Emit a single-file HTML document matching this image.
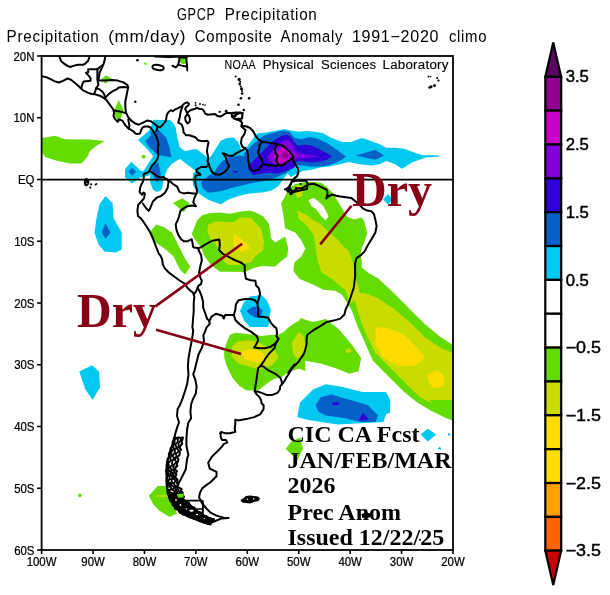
<!DOCTYPE html>
<html><head><meta charset="utf-8"><title>GPCP Precipitation Composite Anomaly</title>
<style>html,body{margin:0;padding:0;background:#fff;width:610px;height:595px;overflow:hidden}svg{display:block}</style>
</head><body>
<svg width="610" height="595" viewBox="0 0 610 595"><text transform="translate(176.9 19.9) scale(0.870 1.1)" x="0" y="0" font-family="'Liberation Sans', Arial, sans-serif" font-size="14.6" textLength="43.8" lengthAdjust="spacing" fill="#000">GPCP</text>
<text transform="translate(224.7 19.9) scale(1.042 1.1)" x="0" y="0" font-family="'Liberation Sans', Arial, sans-serif" font-size="14.6" textLength="88.4" lengthAdjust="spacing" fill="#000">Precipitation</text>
<text transform="translate(6.6 41.9) scale(1.043 1.1)" x="0" y="0" font-family="'Liberation Sans', Arial, sans-serif" font-size="14.6" textLength="88.4" lengthAdjust="spacing" fill="#000">Precipitation</text>
<text transform="translate(108.2 41.9) scale(1.176 1.1)" x="0" y="0" font-family="'Liberation Sans', Arial, sans-serif" font-size="14.6" textLength="65.8" lengthAdjust="spacing" fill="#000">(mm/day)</text>
<text transform="translate(194.8 41.9) scale(1.022 1.1)" x="0" y="0" font-family="'Liberation Sans', Arial, sans-serif" font-size="14.6" textLength="75.3" lengthAdjust="spacing" fill="#000">Composite</text>
<text transform="translate(280.6 41.9) scale(1.011 1.1)" x="0" y="0" font-family="'Liberation Sans', Arial, sans-serif" font-size="14.6" textLength="61.0" lengthAdjust="spacing" fill="#000">Anomaly</text>
<text transform="translate(351.9 41.9) scale(1.102 1.1)" x="0" y="0" font-family="'Liberation Sans', Arial, sans-serif" font-size="14.6" textLength="78.6" lengthAdjust="spacing" fill="#000">1991&#8722;2020</text>
<text transform="translate(448.9 41.9) scale(1.021 1.1)" x="0" y="0" font-family="'Liberation Sans', Arial, sans-serif" font-size="14.6" textLength="36.8" lengthAdjust="spacing" fill="#000">climo</text>
<g id="map"><defs><clipPath id="mc"><rect x="41.6" y="56" width="411.4" height="494"/></clipPath></defs><g clip-path="url(#mc)"><polygon points="41.0,138.2 55.1,135.7 65.2,139.3 77.8,139.5 90.4,139.5 104.5,140.9 95.5,146.6 90.0,151.0 87.9,155.9 81.6,163.4 70.2,163.4 57.6,160.9 45.0,157.1 41.0,150.8" fill="#64dc00"/><polygon points="101.2,79.4 105.9,75.3 112.9,79.4 108.2,81.2 105.9,83.5 101.2,81.0" fill="#64dc00"/><polygon points="118.8,100.0 123.5,110.0 122.9,112.4 121.2,117.1 118.8,123.5 117.6,120.6 115.3,115.9 114.1,110.0" fill="#64dc00"/><polygon points="143.2,64.4 145.0,62.3 147.8,64.4" fill="#64dc00"/><polygon points="179.5,58.0 183.0,57.0 186.0,58.5 186.5,63.0 183.0,64.5 180.0,62.0" fill="#64dc00"/><circle cx="143.7" cy="156.7" r="2" fill="#64dc00"/><circle cx="79.8" cy="495.4" r="1.8" fill="#64dc00"/><polygon points="105.5,196.1 112.6,203.2 113.6,218.3 121.7,232.4 121.7,249.6 115.6,252.6 104.5,251.6 98.5,244.5 94.5,232.4 96.5,218.3 99.5,204.2" fill="#00c8f0"/><polygon points="105.5,223.4 110.6,232.4 105.5,238.5 101.5,232.4" fill="#0560c8"/><polygon points="79.3,371.5 92.1,365.2 99.0,371.5 100.0,387.2 92.7,400.0 85.2,389.2" fill="#00c8f0"/><polygon points="130.5,180.0 134.0,180.0 132.5,183.0" fill="#00c8f0"/><polygon points="125.0,169.3 131.1,161.8 136.1,166.3 141.0,171.0 143.2,171.3 145.2,168.3 149.2,162.3 153.2,156.2 148.2,150.2 143.2,145.1 138.1,140.1 145.2,134.0 149.4,130.0 153.4,119.7 160.0,120.1 169.8,120.1 172.8,122.5 175.7,127.4 176.7,134.3 178.2,141.2 179.5,147.0 185.2,151.2 193.1,149.3 197.0,149.3 201.0,152.5 206.2,156.5 208.2,159.1 211.5,155.2 216.7,147.3 220.7,140.7 227.2,138.1 233.8,137.5 237.7,141.4 240.0,146.0 241.5,150.5 244.0,149.5 247.8,145.6 250.8,141.7 253.0,138.5 255.7,134.8 258.5,133.2 266.1,132.4 276.9,130.4 285.0,129.0 290.3,130.4 298.4,131.7 306.5,131.1 314.5,131.7 322.6,133.1 331.1,137.7 342.1,142.1 351.0,142.1 362.0,138.1 370.9,141.0 379.7,144.3 386.4,147.7 395.2,147.7 404.1,148.8 412.9,152.1 421.8,155.0 439.5,155.4 439.5,156.5 426.2,157.6 412.9,162.0 401.9,168.7 395.2,164.3 386.4,160.9 379.7,164.3 370.9,165.4 359.8,164.3 348.8,162.0 339.9,164.3 328.9,166.5 320.0,167.6 310.5,170.0 303.8,170.7 298.4,172.7 291.0,177.0 287.4,173.6 282.0,180.8 278.4,186.2 271.2,190.7 262.1,192.5 249.5,193.4 238.7,196.1 229.7,198.9 220.7,204.3 208.0,199.8 199.0,193.4 196.0,190.0 193.1,185.3 192.5,180.1 193.1,173.5 195.7,170.9 190.5,167.0 185.2,163.0 180.0,159.1 177.4,160.3 171.4,164.3 167.4,169.3 165.3,174.4 163.3,180.4 162.5,186.0 163.6,184.0 165.0,180.0 161.3,190.0 156.9,192.1 153.2,190.0 150.2,182.4 150.2,174.4 148.0,176.0 140.1,177.4 132.1,183.4 128.0,180.0 125.0,177.0" fill="#00c8f0"/><polygon points="145.2,141.1 151.2,135.0 150.0,131.0 152.9,132.4 158.8,130.0 164.7,135.9 166.3,138.1 169.4,147.1 171.4,157.2 159.3,155.2 155.3,153.2 149.2,147.1" fill="#0560c8"/><polygon points="153.2,166.3 158.3,162.3 160.8,174.4 159.3,178.4 157.3,182.4 154.2,177.4 151.7,170.3" fill="#0560c8"/><polygon points="128.5,171.8 132.1,167.8 136.0,171.8 132.1,175.8" fill="#0560c8"/><polygon points="201.0,182.7 206.2,177.5 214.1,172.2 219.3,164.3 223.3,160.4 229.8,156.5 235.1,156.5 239.0,155.2 244.3,156.5 243.9,153.5 247.8,149.5 252.7,144.6 257.7,140.7 260.6,137.7 263.6,135.8 269.5,133.8 277.3,131.8 283.2,130.5 289.1,131.5 294.8,137.9 301.7,139.3 309.6,136.9 317.4,138.8 326.3,142.8 334.2,147.7 343.0,154.6 346.0,156.5 343.0,159.0 336.1,162.4 328.3,165.4 319.4,166.4 310.6,166.4 302.7,165.4 296.0,165.0 290.3,170.0 285.0,173.4 274.8,178.1 265.7,180.8 254.9,182.6 245.9,184.4 235.1,187.1 222.5,190.7 211.6,192.5 207.5,192.5 202.6,188.0" fill="#0560c8"/><polygon points="355.4,155.4 375.3,149.9 384.2,155.4 375.3,159.8 364.3,157.6" fill="#0560c8"/><polygon points="247.8,168.2 250.8,163.3 255.7,158.4 260.6,153.5 265.5,148.5 270.4,143.6 276.3,138.7 282.2,135.8 287.2,134.8 290.5,136.5 292.9,140.8 297.8,145.7 305.6,144.7 312.5,145.7 320.4,149.7 327.3,153.6 332.2,156.5 327.3,159.5 320.4,161.5 312.5,162.4 304.7,161.5 296.8,161.5 294.2,167.8 286.0,171.1 277.8,173.5 269.6,172.7 261.4,173.5 253.2,175.0" fill="#3000d8"/><polygon points="233.1,170.9 237.7,170.9 237.7,172.2 233.1,172.2" fill="#3000d8"/><polygon points="266.7,157.1 272.0,151.4 277.8,145.7 283.5,140.7 288.4,139.9 292.5,144.0 294.8,150.6 299.7,153.6 309.6,155.1 318.4,156.5 309.6,157.5 299.7,158.5 294.8,159.5 290.9,162.0 284.3,166.1 277.8,166.1 272.0,162.9 268.8,160.4" fill="#8200dc"/><polygon points="272.9,156.3 279.4,149.8 283.5,146.5 287.6,149.8 290.9,155.5 286.0,162.0 280.2,163.7 276.1,160.4" fill="#c800c8"/><polygon points="281.1,156.3 284.3,151.4 288.4,153.9 287.6,158.0 284.3,158.8" fill="#910091"/><polygon points="191.8,233.8 197.2,220.3 202.6,215.0 209.8,213.2 219.2,212.5 230.0,213.8 239.4,211.8 249.5,210.6 255.0,212.2 263.1,216.3 269.1,224.3 271.1,238.4 275.2,242.5 285.2,236.4 288.2,248.5 287.2,256.6 280.0,262.0 274.9,266.7 261.5,266.0 253.4,268.1 245.3,272.1 230.0,271.8 219.9,271.8 210.5,264.4 203.8,255.0 201.3,247.2 194.5,239.2" fill="#64dc00"/><polygon points="207.1,230.0 208.4,224.6 216.5,221.2 225.9,221.9 234.0,221.9 240.7,217.2 251.5,217.9 255.0,222.3 261.0,228.4 264.1,240.5 263.1,250.5 255.0,256.6 251.5,262.2 239.4,264.9 228.6,264.9 224.6,262.2 220.0,252.0 215.2,243.4 209.8,238.0" fill="#c8dc00"/><polygon points="234.0,234.0 242.1,239.4 248.8,246.1 250.1,248.8 242.1,251.5 235.3,248.8 233.3,242.1" fill="#ffdc00"/><polygon points="173.0,202.9 182.4,198.2 189.8,203.5 183.8,212.3" fill="#64dc00"/><polygon points="149.7,232.5 156.2,224.6 164.1,227.2 172.0,232.5 178.5,245.6 185.1,258.7 190.3,266.6 185.1,274.4 179.8,269.2 173.3,256.1 164.1,248.2 156.2,243.0 151.0,237.7" fill="#64dc00"/><polygon points="289.3,188.1 295.3,184.0 305.4,182.0 315.5,182.0 321.5,183.1 326.9,187.1 332.3,192.5 335.0,196.5 339.0,203.2 343.0,210.0 347.1,216.7 353.8,219.4 361.8,217.4 364.5,222.1 367.2,232.8 364.5,242.2 361.8,247.6 360.5,255.0 361.8,260.8 361.8,267.5 368.6,272.9 378.0,278.2 396.4,295.6 409.4,308.7 425.0,324.3 440.7,337.3 453.0,345.1 453.0,420.7 445.9,418.1 430.2,410.2 417.2,402.4 404.2,392.0 388.6,376.4 372.9,360.8 362.5,337.3 357.0,325.0 352.1,311.3 347.1,302.4 341.7,294.4 335.0,290.8 323.5,289.8 313.4,284.8 299.3,278.7 293.3,270.7 294.3,262.6 301.3,256.6 305.4,248.5 301.3,240.5 295.3,232.4 285.2,228.4 283.2,214.3 281.2,203.2 285.2,196.1" fill="#64dc00"/><polygon points="308.4,200.2 313.4,198.1 318.0,201.0 323.5,206.2 328.6,216.3 325.5,220.3 321.0,216.0 316.0,209.0 311.4,206.2" fill="#ffffff"/><polygon points="297.3,210.2 305.4,214.3 313.4,220.3 320.2,223.4 325.5,228.8 330.9,234.2 337.6,239.5 343.0,246.3 348.4,250.0 352.4,260.8 353.8,267.5 356.5,280.9 360.0,293.0 365.1,293.0 378.1,298.2 393.8,308.7 409.4,321.7 425.0,337.3 440.7,347.7 453.0,352.9 453.0,410.2 435.5,405.0 419.8,397.2 406.8,384.2 391.2,368.6 375.5,352.9 365.1,332.1 358.0,312.0 354.7,300.8 349.7,303.8 345.7,290.3 339.0,285.0 331.6,278.7 321.5,272.7 317.5,260.6 315.5,246.5 313.4,234.4 307.4,226.3 298.3,218.3" fill="#c8dc00"/><polygon points="295.3,186.0 300.0,185.0 303.4,188.0 302.0,196.0 298.0,198.1 295.0,194.0" fill="#c8dc00"/><polygon points="375.5,326.9 388.6,328.2 404.2,334.7 417.2,347.7 425.0,358.1 414.6,366.0 399.0,366.0 383.4,358.1 375.5,345.1" fill="#ffdc00"/><polygon points="427.6,373.8 438.1,369.9 444.6,376.4 443.3,386.8 432.8,388.1 428.9,381.6" fill="#ffdc00"/><polygon points="300.0,318.0 313.0,322.0 326.0,319.1 339.1,329.5 352.1,345.1 361.2,358.1 358.6,371.2 349.5,373.8 336.5,368.6 320.8,363.4 305.2,360.8 300.0,358.0" fill="#64dc00"/><polygon points="345.0,350.0 350.0,348.0 352.0,352.0 347.0,353.0" fill="#c8dc00"/><polygon points="224.2,356.9 224.2,351.5 226.8,342.1 230.0,334.8 235.4,332.8 243.4,333.4 252.9,334.8 262.0,336.0 270.0,335.0 278.4,334.8 283.8,332.1 287.8,328.1 293.2,324.0 299.9,320.0 305.3,320.0 310.0,322.7 310.0,330.0 306.0,345.0 305.3,355.0 305.3,371.1 299.0,368.8 295.1,369.8 291.1,370.8 286.2,373.8 282.3,376.7 277.4,377.7 272.4,379.7 265.6,384.6 259.7,389.5 253.8,390.5 246.1,390.2 239.4,386.1 232.6,378.1 228.6,370.0 226.0,364.0" fill="#64dc00"/><polygon points="232.7,345.5 238.1,341.5 247.5,340.2 256.9,341.5 267.6,346.9 275.7,352.3 278.4,357.6 276.4,360.0 272.4,364.9 265.6,367.9 259.7,369.3 249.8,366.9 240.0,363.9 236.7,361.7 231.3,356.3" fill="#c8dc00"/><polygon points="242.1,352.3 247.5,349.6 256.9,350.2 263.6,353.6 265.0,357.6 260.9,363.0 252.9,361.7 244.8,359.0" fill="#ffdc00"/><polygon points="291.8,342.9 298.6,332.1 303.9,336.1 305.3,346.9 302.6,355.0 297.2,359.0 293.2,353.6" fill="#c8dc00"/><polygon points="240.0,311.1 244.0,301.7 250.7,296.3 261.5,295.0 266.8,300.3 270.9,309.7 269.5,316.5 268.2,324.5 258.8,327.2 249.4,325.9 244.0,320.5" fill="#00c8f0"/><polygon points="246.7,311.1 252.1,307.1 258.8,306.4 262.8,311.1 260.1,316.5 256.1,317.8 250.7,315.1" fill="#0560c8"/><polygon points="244.0,320.0 250.0,318.0 262.0,318.0 270.0,320.0 268.0,327.0 250.0,327.0" fill="#00c8f0"/><polygon points="383.0,199.5 388.0,194.0 392.5,199.0 388.5,205.0" fill="#00c8f0"/><polygon points="297.2,417.2 300.0,402.4 313.0,389.4 326.0,384.2 341.7,386.8 362.5,392.0 386.0,392.0 390.4,400.0 389.9,412.8 386.1,414.3 383.4,422.0 366.1,423.0 337.4,424.4 308.7,420.1" fill="#00c8f0"/><polygon points="315.6,405.0 320.8,397.2 331.3,394.6 349.5,399.8 367.7,405.0 378.1,415.4 375.5,422.0 359.9,422.0 344.3,418.1 326.0,415.4 318.2,411.5" fill="#0560c8"/><polygon points="332.6,402.4 339.1,402.4 339.1,405.0 332.6,405.0" fill="#3000d8"/><polygon points="358.6,420.7 363.0,412.8 369.0,420.0" fill="#3000d8"/><polygon points="420.6,434.4 427.7,428.7 436.3,434.4 427.7,441.6" fill="#00c8f0"/><polygon points="448.0,433.0 451.0,434.4 448.0,436.0" fill="#00c8f0"/><polygon points="437.5,448.8 440.0,446.5 441.5,450.0" fill="#00c8f0"/><polygon points="285.7,448.8 291.5,441.6 300.1,437.3 303.0,448.8 297.2,460.2" fill="#64dc00"/><polygon points="429.2,400.0 440.6,411.5 453.0,420.1 453.0,400.0" fill="#64dc00"/><polygon points="148.9,495.7 157.7,486.1 166.6,486.1 170.0,495.0 176.9,513.4 169.5,517.0 159.2,510.4 153.3,504.5" fill="#64dc00"/><polyline points="156,496 168,496" stroke="#c8dc00" stroke-width="1.5"/><polyline points="59.5,55.0 59.5,56.7 61.2,61.3 64.1,63.6 67.5,65.9 70.4,67.0 73.3,65.9 77.9,64.8 83.0,64.8 85.3,63.6 88.2,60.7 89.3,57.3 89.9,55.0" fill="none" stroke="#000" stroke-width="2.0" stroke-linejoin="round" stroke-linecap="round"/><polyline points="105.4,55.0 104.8,59.6 103.7,63.6 102.0,67.6 99.7,72.2 98.5,80.2 100.0,80.6 104.7,80.6 111.8,80.0 117.6,80.6 123.5,82.4 127.6,85.3 128.2,87.6 127.6,90.0 126.5,95.9 125.3,101.8 125.3,106.5 125.9,112.4 128.2,117.1 131.2,120.6 135.3,123.5 138.8,124.7 143.5,122.4 147.1,120.6 150.6,121.2 154.1,123.5 157.6,126.5 160.0,127.4 163.0,124.5 165.9,120.6 166.9,114.7 168.4,112.2 170.8,110.2 172.8,111.2 174.7,109.7 178.7,107.8 181.6,106.3 184.6,103.4 187.0,102.4 189.0,103.8 188.5,105.3 186.5,106.8 185.1,108.8 186.1,110.7 187.0,113.2 188.5,111.7 190.5,110.2 193.4,109.3 195.4,108.8 196.4,107.8 199.3,108.8 202.3,109.3 204.2,111.2 205.2,113.7 208.2,114.7 212.1,114.2 215.0,114.1 217.4,115.9 220.9,116.5 224.4,114.1 226.8,112.9 231.5,112.9 236.2,112.4 240.5,112.6 236.0,114.5 232.6,117.1 236.2,119.4 240.3,120.6 242.1,122.9 241.5,126.5 243.2,125.9 246.8,126.5 250.3,128.2 253.2,131.2 255.6,135.9 258.1,139.1 262.1,141.8 267.5,142.5 272.9,143.2 276.9,144.5 282.3,145.2 286.3,148.5 289.7,151.9 293.0,155.9 293.0,160.0 295.0,164.0 297.7,168.0 298.4,172.1 297.1,176.1 294.4,178.1 291.7,181.5 290.3,185.5 287.6,188.2 285.0,189.5 290.3,188.9 293.0,192.2 295.7,189.5 298.4,188.2 302.4,188.2 306.5,185.5 306.7,185.8 308.1,184.4 313.4,183.7 318.8,185.8 322.9,187.8 326.9,189.8 327.6,193.8 326.2,198.5 328.2,196.5 332.3,194.5 336.3,195.8 340.3,196.5 345.7,197.2 351.1,197.9 353.8,199.9 357.8,203.2 363.2,208.6 367.2,210.6 371.3,211.3 373.9,214.0 375.3,219.4 376.6,226.1 375.3,232.8 371.3,239.5 367.2,246.3 364.5,251.6 360.5,255.4 356.5,258.1 355.1,263.4 355.1,276.9 353.8,287.6 351.1,295.7 348.4,303.8 345.7,309.2 344.4,314.5 340.3,318.6 333.6,320.6 326.9,321.9 321.5,325.3 314.8,329.3 310.0,332.8 307.3,334.8 306.6,338.8 306.6,344.2 305.3,349.6 304.0,353.6 301.3,357.6 298.6,361.7 296.5,363.9 294.1,365.9 292.1,368.8 290.1,371.8 288.2,374.7 286.2,377.7 284.2,381.6 281.8,384.6 280.3,386.0 279.8,389.5 277.4,392.9 272.4,394.9 266.5,394.9 261.6,392.9 257.7,391.5 254.7,391.5 256.7,394.4 259.7,397.4 261.1,400.3 261.6,403.3 263.6,405.2 263.6,409.0 260.2,414.4 254.2,417.1 246.1,419.1 238.0,420.4 235.3,419.7 235.3,423.8 234.7,429.2 235.3,431.8 230.0,433.2 224.6,433.2 221.2,431.8 220.5,435.9 221.9,439.9 225.9,439.9 227.3,442.6 223.9,443.9 221.9,446.6 219.6,449.1 212.0,456.6 208.2,462.7 209.7,468.7 216.5,471.8 216.5,476.3 210.5,482.3 206.0,485.4 202.2,488.4 199.9,492.9 199.1,497.5 200.5,500.5 202.2,503.5 206.0,508.0 210.5,512.6 216.5,515.6 224.1,517.9 228.6,517.9 221.1,518.6 213.5,521.7 207.5,523.9 198.4,520.2 189.3,517.1 180.2,512.6 172.7,503.5 168.1,494.4 166.6,485.4 166.6,474.8 166.6,467.2 168.9,456.6 171.2,449.1 174.2,440.0 175.0,434.6 177.0,427.9 179.0,422.5 177.0,415.8 177.6,409.0 179.8,405.3 182.5,398.6 185.2,390.5 187.2,383.8 188.5,374.4 187.9,366.3 188.5,358.2 189.9,350.2 191.2,343.4 192.6,335.4 193.2,330.0 192.4,327.6 193.0,319.5 193.7,311.5 193.7,303.4 194.4,296.7 193.0,292.6 190.3,290.6 187.0,287.3 185.0,283.9 179.6,280.5 174.2,276.5 168.8,272.5 164.8,268.4 162.8,264.4 162.1,259.0 160.1,255.0 158.9,254.0 156.2,247.2 154.2,241.8 152.2,236.5 149.5,231.1 146.1,225.7 143.4,221.7 140.8,218.3 138.1,216.3 137.4,210.9 138.1,204.9 141.4,201.5 144.1,198.2 144.8,193.6 143.4,192.5 142.1,194.8 139.6,192.0 140.1,188.0 141.1,185.0 142.6,182.4 143.7,179.4 143.7,174.4 145.2,173.4 148.2,172.4 149.7,170.3 150.7,168.3 152.2,165.3 154.7,163.3 157.3,159.2 158.3,155.2 157.8,150.2 158.3,144.1 157.8,141.0 156.5,137.0 154.5,133.0 152.4,130.0 150.6,127.6 148.2,126.5 144.7,126.5 142.4,127.6 141.2,130.0 140.0,133.5 137.6,134.1 135.3,133.5 134.1,131.8 131.2,130.0 128.2,128.2 125.3,125.3 122.4,120.6 118.8,119.4 117.6,121.8 115.3,119.4 113.5,115.9 114.1,112.4 112.9,108.8 109.4,104.1 105.9,99.4 105.4,99.2 103.1,97.5 99.7,95.7 96.2,94.6 91.6,94.0 88.2,92.9 83.6,90.6 80.7,88.3 77.9,85.4 74.4,82.5 71.0,79.7 67.5,78.5 63.0,80.8 58.9,82.5 54.9,81.4 51.5,79.7 46.9,77.4 41.0,76.0" fill="none" stroke="#000" stroke-width="2.0" stroke-linejoin="round" stroke-linecap="round"/><polygon points="292.0,181.5 298.0,180.8 306.0,180.7 307.5,183.0 307.0,188.9 302.0,190.0 298.9,190.7 294.0,192.0 290.0,190.0 289.5,186.0" fill="none" stroke="#000" stroke-width="2.0" stroke-linejoin="round"/><circle cx="288.5" cy="190.5" r="2.3" fill="#000"/><circle cx="291" cy="193.5" r="1.8" fill="#000"/><circle cx="296" cy="188" r="1.2" fill="#000"/><circle cx="300.5" cy="184" r="1.0" fill="#000"/><polygon points="187.0,114.2 185.1,117.6 185.6,120.6 187.5,123.5 189.5,122.0 190.0,118.6 188.5,115.2" fill="none" stroke="#000" stroke-width="2.0" stroke-linejoin="round"/><polyline points="288.0,373.0 291.0,368.5 294.5,364.0" fill="none" stroke="#000" stroke-width="1.5" stroke-linejoin="round" stroke-linecap="round"/><polyline points="174.2,437.6 173.6,439.8 172.7,442.0 172.6,444.2 171.9,446.4 170.5,448.7 170.4,450.7 169.4,452.7 168.8,454.8 169.7,456.6 167.7,458.8 167.3,461.0 167.0,463.2 166.6,465.5 167.3,467.5 166.4,469.8 166.1,471.0 166.7,472.1 166.4,473.3 166.6,474.4 168.0,475.5 166.8,477.3 166.8,479.2 166.8,481.0 166.8,482.9 168.1,484.7 167.2,486.5 167.2,488.4 167.9,490.2 167.5,492.1 168.1,493.9 169.9,495.2 168.8,496.9 169.4,498.3 170.0,499.8 170.5,501.3 173.1,502.5 172.3,504.3 173.3,505.7 174.8,507.0 175.1,508.7 177.3,509.6 179.2,510.5 179.5,512.1 181.1,513.1 182.6,514.3 184.4,515.0 187.5,515.1 188.1,516.5 189.9,517.3 192.3,517.7 193.6,518.7 196.0,519.1 197.7,519.9 199.2,521.0 201.1,521.6 202.9,522.2 204.7,522.8 207.0,522.8 208.4,523.9 210.2,524.4" fill="none" stroke="#000" stroke-width="2.1" stroke-linejoin="round" stroke-linecap="round"/><polyline points="177.3,437.6 174.9,439.8 174.5,442.0 174.6,444.1 173.0,446.3 174.0,448.4 172.7,450.4 170.7,452.6 171.8,454.4 170.6,456.5 170.5,458.4 171.1,460.4 168.4,463.0 168.8,465.1 169.2,467.2 167.9,469.6 169.5,470.6 168.5,471.9 167.6,473.2 169.5,474.3 168.9,475.5 169.4,477.3 170.0,479.2 168.0,481.0 169.3,482.9 170.1,484.7 169.4,486.5 171.3,488.2 169.9,490.0 169.4,491.9 172.4,493.4 171.4,495.0 172.5,496.4 173.3,497.9 171.3,499.6 173.9,500.9 175.3,502.1 175.0,503.6 177.5,504.6 176.4,506.5 177.3,507.9 181.2,508.1 180.9,509.8 182.9,510.7 184.3,511.8 183.8,513.8 187.7,513.5 189.4,514.2 190.0,515.5 192.7,515.7 193.1,517.2 195.1,517.8 198.0,517.6 198.6,519.2 200.6,519.6 202.2,520.4 203.4,521.6 206.1,521.1 207.7,521.9 209.1,522.9 211.2,522.9" fill="none" stroke="#000" stroke-width="1.8" stroke-linejoin="round" stroke-linecap="round"/><polyline points="178.5,437.6 177.7,439.7 177.8,441.8 175.5,444.1 175.9,446.1 176.5,448.2 174.6,450.2 175.1,452.1 173.8,454.1 172.4,456.2 174.2,457.8 172.8,460.2 172.0,462.5 172.3,464.6 170.1,467.1 171.1,469.1 172.0,470.2 170.6,471.7 171.6,472.9 170.8,474.2 170.6,475.5 172.8,477.3 171.7,479.2 171.6,481.0 172.4,482.9 170.9,484.7 173.4,486.4 174.3,488.0 172.8,489.8 174.7,491.4 174.0,493.2 174.4,494.7 177.4,495.8 175.5,497.6 175.9,499.1 177.0,500.5 176.5,501.9 179.9,502.5 180.7,503.7 179.6,505.5 182.2,506.1 182.3,507.6 184.2,508.5 187.4,508.9 186.3,511.0 188.0,512.0 190.1,512.4 190.6,513.7 193.9,513.5 194.8,514.5 195.1,516.0 197.7,516.0 198.6,517.2 200.5,517.6 202.7,517.8 203.0,519.6 205.0,519.9 206.9,520.2 208.3,521.1 210.6,520.8 211.9,521.9" fill="none" stroke="#000" stroke-width="1.8" stroke-linejoin="round" stroke-linecap="round"/><polyline points="179.8,437.6 181.1,439.7 179.5,441.8 178.3,443.9 178.9,445.9 177.2,448.1 178.1,449.9 178.3,451.7 175.7,453.9 176.4,455.7 175.7,457.6 174.9,459.9 176.3,461.8 174.1,464.3 173.1,466.6 173.9,468.6 172.8,470.1 174.2,471.3 174.4,472.7 172.6,474.2 173.9,475.5 173.9,477.3 174.0,479.2 175.8,481.0 174.0,482.9 174.2,484.7 176.3,486.3 175.7,487.9 178.1,489.4 178.3,491.0 176.5,492.9 179.2,494.1 179.0,495.6 179.2,497.1 181.1,498.4 178.8,500.2 180.3,501.2 182.9,501.8 182.5,503.2 185.2,503.6 185.3,504.9 184.7,506.7 188.4,506.9 188.9,508.3 190.1,509.4 192.4,510.0 191.4,511.8 193.8,512.1 196.1,512.3 196.4,513.7 198.7,513.8 199.2,515.1 199.9,516.3 202.6,516.0 203.4,517.1 204.8,517.9 206.6,518.1 207.4,519.7 209.6,519.5 211.4,519.7 212.6,520.9" fill="none" stroke="#000" stroke-width="1.8" stroke-linejoin="round" stroke-linecap="round"/><polyline points="182.5,437.6 182.5,439.6 181.4,441.7 182.2,443.7 180.3,445.8 179.6,447.9 181.0,449.6 179.4,451.6 179.7,453.4 179.4,455.2 177.0,457.4 178.4,459.3 178.0,461.5 176.6,463.9 177.3,465.9 175.0,468.4 175.2,469.8 176.9,471.1 175.7,472.6 176.3,474.0 176.1,475.5 175.0,477.3 177.3,479.2 177.4,481.0 176.9,482.9 178.3,484.7 177.3,486.2 178.9,487.8 181.6,489.1 180.4,490.8 182.3,492.2 181.9,493.8 180.7,495.4 183.9,496.6 183.2,498.1 182.5,499.7 184.7,500.4 183.8,501.6 186.3,502.1 188.8,502.5 187.6,504.0 189.9,504.7 190.4,506.1 190.7,507.5 194.4,507.6 194.3,509.2 194.8,510.3 197.0,510.5 196.7,512.0 199.2,512.0 201.0,512.4 200.6,514.1 202.6,514.3 203.4,515.3 204.4,516.2 206.5,516.1 207.4,517.3 208.7,518.1 210.6,518.2 211.7,519.3 213.8,519.1" fill="none" stroke="#000" stroke-width="2.1" stroke-linejoin="round" stroke-linecap="round"/><circle cx="167.9" cy="467.4" r="0.98" fill="#000"/><circle cx="169.6" cy="467.2" r="1.10" fill="#000"/><circle cx="173.4" cy="466.5" r="0.91" fill="#000"/><circle cx="175.2" cy="466.3" r="0.80" fill="#000"/><circle cx="167.0" cy="470.9" r="1.00" fill="#000"/><circle cx="169.8" cy="470.5" r="0.81" fill="#000"/><circle cx="173.0" cy="470.1" r="0.91" fill="#000"/><circle cx="174.2" cy="469.9" r="1.09" fill="#000"/><circle cx="167.1" cy="473.2" r="0.83" fill="#000"/><circle cx="170.7" cy="473.0" r="1.05" fill="#000"/><circle cx="172.5" cy="472.8" r="1.06" fill="#000"/><circle cx="174.4" cy="472.7" r="0.85" fill="#000"/><circle cx="167.9" cy="475.5" r="1.10" fill="#000"/><circle cx="170.9" cy="475.5" r="0.92" fill="#000"/><circle cx="172.1" cy="475.5" r="0.80" fill="#000"/><circle cx="175.2" cy="475.5" r="0.98" fill="#000"/><circle cx="168.6" cy="479.2" r="0.81" fill="#000"/><circle cx="170.6" cy="479.2" r="0.90" fill="#000"/><circle cx="172.7" cy="479.2" r="1.09" fill="#000"/><circle cx="176.2" cy="479.2" r="1.00" fill="#000"/><circle cx="168.8" cy="482.9" r="1.04" fill="#000"/><circle cx="170.2" cy="482.9" r="1.07" fill="#000"/><circle cx="173.8" cy="482.9" r="0.85" fill="#000"/><circle cx="176.5" cy="482.9" r="0.83" fill="#000"/><circle cx="168.5" cy="486.5" r="0.94" fill="#000"/><circle cx="170.9" cy="486.4" r="0.80" fill="#000"/><circle cx="175.1" cy="486.3" r="0.97" fill="#000"/><circle cx="176.8" cy="486.3" r="1.10" fill="#000"/><circle cx="168.3" cy="490.1" r="1.14" fill="#000"/><circle cx="172.6" cy="489.8" r="1.48" fill="#000"/><circle cx="176.0" cy="489.6" r="1.34" fill="#000"/><circle cx="177.9" cy="489.4" r="1.02" fill="#000"/><circle cx="168.8" cy="493.8" r="1.46" fill="#000"/><circle cx="174.1" cy="493.2" r="1.11" fill="#000"/><circle cx="176.3" cy="492.9" r="1.05" fill="#000"/><circle cx="179.9" cy="492.5" r="1.39" fill="#000"/><circle cx="170.8" cy="496.6" r="1.00" fill="#000"/><circle cx="174.6" cy="496.2" r="1.27" fill="#000"/><circle cx="176.6" cy="495.9" r="1.50" fill="#000"/><circle cx="181.4" cy="495.3" r="1.23" fill="#000"/><circle cx="172.5" cy="499.5" r="1.47" fill="#000"/><circle cx="174.5" cy="499.2" r="1.36" fill="#000"/><circle cx="177.9" cy="498.8" r="1.02" fill="#000"/><circle cx="182.2" cy="498.3" r="1.14" fill="#000"/><circle cx="173.6" cy="502.4" r="1.13" fill="#000"/><circle cx="175.5" cy="502.0" r="1.04" fill="#000"/><circle cx="180.2" cy="501.2" r="1.39" fill="#000"/><circle cx="182.8" cy="500.7" r="1.46" fill="#000"/><circle cx="174.6" cy="505.4" r="1.24" fill="#000"/><circle cx="178.0" cy="504.4" r="1.50" fill="#000"/><circle cx="182.5" cy="503.2" r="1.24" fill="#000"/><circle cx="184.1" cy="502.7" r="1.00" fill="#000"/><circle cx="176.0" cy="508.4" r="1.38" fill="#000"/><circle cx="180.9" cy="506.6" r="1.03" fill="#000"/><circle cx="183.8" cy="505.5" r="1.13" fill="#000"/><circle cx="186.2" cy="504.6" r="1.47" fill="#000"/><circle cx="179.4" cy="510.4" r="1.03" fill="#000"/><circle cx="183.8" cy="508.7" r="1.37" fill="#000"/><circle cx="185.5" cy="508.0" r="1.46" fill="#000"/><circle cx="189.4" cy="506.5" r="1.13" fill="#000"/><circle cx="183.1" cy="512.3" r="1.50" fill="#000"/><circle cx="185.9" cy="511.2" r="1.26" fill="#000"/><circle cx="188.1" cy="510.2" r="1.00" fill="#000"/><circle cx="192.4" cy="508.4" r="1.24" fill="#000"/><circle cx="186.6" cy="514.0" r="1.05" fill="#000"/><circle cx="188.1" cy="513.3" r="1.11" fill="#000"/><circle cx="191.5" cy="511.8" r="1.46" fill="#000"/><circle cx="194.7" cy="510.3" r="1.39" fill="#000"/><circle cx="189.5" cy="515.8" r="1.35" fill="#000"/><circle cx="191.3" cy="514.9" r="1.48" fill="#000"/><circle cx="194.9" cy="513.0" r="1.13" fill="#000"/><circle cx="196.5" cy="512.1" r="1.03" fill="#000"/><circle cx="192.5" cy="517.6" r="1.28" fill="#000"/><circle cx="195.0" cy="516.0" r="1.00" fill="#000"/><circle cx="197.5" cy="514.5" r="1.24" fill="#000"/><circle cx="198.6" cy="513.8" r="1.50" fill="#000"/><circle cx="196.0" cy="519.1" r="1.09" fill="#000"/><circle cx="198.6" cy="517.2" r="1.45" fill="#000"/><circle cx="199.8" cy="516.3" r="1.39" fill="#000"/><circle cx="201.4" cy="515.2" r="1.05" fill="#000"/><circle cx="199.9" cy="520.3" r="1.48" fill="#000"/><circle cx="201.6" cy="518.7" r="1.15" fill="#000"/><circle cx="202.4" cy="518.0" r="1.02" fill="#000"/><circle cx="204.3" cy="516.3" r="1.35" fill="#000"/><circle cx="203.7" cy="521.3" r="1.00" fill="#000"/><circle cx="204.6" cy="520.4" r="1.21" fill="#000"/><circle cx="205.6" cy="519.2" r="1.50" fill="#000"/><circle cx="207.3" cy="517.4" r="1.28" fill="#000"/><circle cx="207.3" cy="522.4" r="1.44" fill="#000"/><circle cx="207.8" cy="521.7" r="1.41" fill="#000"/><circle cx="209.2" cy="520.0" r="1.05" fill="#000"/><circle cx="210.2" cy="518.7" r="1.09" fill="#000"/><circle cx="210.6" cy="523.8" r="1.18" fill="#000"/><circle cx="211.4" cy="522.7" r="1.01" fill="#000"/><circle cx="212.6" cy="520.9" r="1.34" fill="#000"/><circle cx="213.0" cy="520.2" r="1.49" fill="#000"/><polyline points="174.2,437.6 183.4,437.6" fill="none" stroke="#000" stroke-width="1.6" stroke-linejoin="round" stroke-linecap="round"/><polygon points="167.7,493.9 170.5,501.3 175.1,508.7 182.5,514.3 191.8,518.0 201.0,521.7 210.2,524.4 213.9,518.9 206.5,516.1 201.0,512.4 195.5,508.7 189.9,503.2 184.4,499.5 183.4,492.1" fill="#000"/><ellipse cx="176" cy="500" rx="0.8" ry="1.1" fill="#fff"/><ellipse cx="180.5" cy="505" rx="0.9" ry="1.0" fill="#fff"/><ellipse cx="191.5" cy="510.5" rx="2.2" ry="1.3" fill="#fff"/><ellipse cx="186.5" cy="509" rx="0.8" ry="0.8" fill="#fff"/><ellipse cx="197" cy="514.5" rx="1.1" ry="0.7" fill="#fff"/><ellipse cx="204" cy="518.5" rx="1.0" ry="0.7" fill="#fff"/><polyline points="184.4,500.7 202.0,500.7" fill="none" stroke="#000" stroke-width="1.8" stroke-linejoin="round" stroke-linecap="round"/><polyline points="202.9,501.2 202.9,518.8" fill="none" stroke="#000" stroke-width="1.8" stroke-linejoin="round" stroke-linecap="round"/><polyline points="188.0,509.0 202.9,509.0" fill="none" stroke="#000" stroke-width="1.4" stroke-linejoin="round" stroke-linecap="round"/><ellipse cx="158.1" cy="67.5" rx="5.7" ry="2.6" fill="none" stroke="#000" stroke-width="2" transform="rotate(8 158.1 67.5)"/><polyline points="155.0,56.8 170.0,57.2 180.0,56.8 188.0,57.0" fill="none" stroke="#000" stroke-width="1.6" stroke-linejoin="round" stroke-linecap="round"/><polyline points="172.5,65.8 175.9,67.5 178.2,64.6 179.3,60.0 179.3,57.7 182.8,57.2 186.2,57.7 186.8,63.5 187.4,70.4" fill="none" stroke="#000" stroke-width="2.0" stroke-linejoin="round" stroke-linecap="round"/><polyline points="178.2,64.6 183.0,66.0 186.8,66.5" fill="none" stroke="#000" stroke-width="1.8" stroke-linejoin="round" stroke-linecap="round"/><circle cx="137.5" cy="60.3" r="1.3" fill="#000"/><circle cx="235.6" cy="76.5" r="1.0" fill="#000"/><circle cx="239.1" cy="79.4" r="1.6" fill="#000"/><circle cx="239.7" cy="84.1" r="1.3" fill="#000"/><circle cx="241.5" cy="88.8" r="1.5" fill="#000"/><circle cx="242.1" cy="93.5" r="1.3" fill="#000"/><circle cx="240.2" cy="81.8" r="1.1" fill="#000"/><circle cx="240.8" cy="86.5" r="1.1" fill="#000"/><circle cx="242" cy="91" r="1.0" fill="#000"/><circle cx="240.9" cy="98.2" r="1.3" fill="#000"/><circle cx="249.1" cy="98.2" r="1.3" fill="#000"/><circle cx="238.5" cy="104.7" r="1.3" fill="#000"/><circle cx="243.8" cy="110" r="1.3" fill="#000"/><circle cx="219.7" cy="111.8" r="1.1" fill="#000"/><circle cx="226.2" cy="111.2" r="1.4" fill="#000"/><circle cx="135.3" cy="101.8" r="1.2" fill="#000"/><circle cx="195.5" cy="102.8" r="0.9" fill="#000"/><circle cx="195.6" cy="105.3" r="1.0" fill="#000"/><circle cx="200" cy="104" r="1.0" fill="#000"/><circle cx="203" cy="104.6" r="0.9" fill="#000"/><circle cx="205" cy="105" r="0.8" fill="#000"/><circle cx="91.1" cy="184.3" r="1.1" fill="#000"/><circle cx="90.3" cy="187.6" r="1.1" fill="#000"/><circle cx="428.5" cy="76.5" r="0.9" fill="#000"/><circle cx="430.5" cy="76.8" r="0.8" fill="#000"/><circle cx="437.2" cy="78" r="1.1" fill="#000"/><circle cx="438.5" cy="80.5" r="1.1" fill="#000"/><circle cx="431" cy="86.8" r="1.5" fill="#000"/><circle cx="434.5" cy="85.5" r="1.5" fill="#000"/><circle cx="429.5" cy="87.5" r="1.2" fill="#000"/><circle cx="220" cy="433.2" r="1.0" fill="#000"/><path d="M84,180 L86,177.8 L88.5,179 L89.5,182 L88.5,185 L86.5,186.5 L84.5,185.5 L83.8,183 Z" fill="#000"/><circle cx="86.8" cy="183.3" r="0.6" fill="#fff"/><ellipse cx="96" cy="184.3" rx="1.6" ry="0.9" fill="#000" transform="rotate(-35 96 184.3)"/><path d="M240.5,500 L243,498.5 L246,496 L250,495.5 L254,496 L258,496.5 L260,498.5 L258.5,501 L254,502 L250,503.5 L246,503 L242,502.5 Z" fill="#000"/><circle cx="247.5" cy="499.3" r="0.7" fill="#fff"/><circle cx="253.6" cy="498.8" r="0.8" fill="#fff"/><path d="M361.5,514 L366,512.5 L371,513.5 L370.5,517 L366,518.5 L362,517.5 Z" fill="#000"/><circle cx="420" cy="539.8" r="1" fill="#000"/><path d="M231.5,113.2 L242.6,113 L242,118.5 L238,119.5 L234,118.5 L232,116.5 Z" fill="none" stroke="#000" stroke-width="2.2" stroke-linejoin="round"/><path d="M233,115 L237,114.5 L236,117.5 Z" fill="#000"/><circle cx="238.5" cy="118.8" r="1.4" fill="#000"/><circle cx="240.5" cy="121" r="1.3" fill="#000"/><circle cx="241.8" cy="124.5" r="1.2" fill="#000"/><polyline points="81.3,88.3 82.5,83.7 83.6,81.4 90.5,80.8 90.5,78.0 88.2,75.1 85.9,72.8 88.2,72.2 88.2,69.3 97.4,69.3" fill="none" stroke="#000" stroke-width="2.0" stroke-linejoin="round" stroke-linecap="round"/><polyline points="97.4,69.3 100.0,67.0 102.8,65.0" fill="none" stroke="#000" stroke-width="2.0" stroke-linejoin="round" stroke-linecap="round"/><polyline points="97.4,69.3 97.4,80.2 98.5,84.8 96.2,88.3 95.1,91.7 93.9,94.0" fill="none" stroke="#000" stroke-width="2.0" stroke-linejoin="round" stroke-linecap="round"/><polyline points="96.2,88.3 99.7,89.4 102.5,91.7 104.3,94.6 105.4,97.5" fill="none" stroke="#000" stroke-width="2.0" stroke-linejoin="round" stroke-linecap="round"/><polyline points="104.7,98.2 107.1,95.9 109.4,93.5 112.9,91.2 116.5,89.4 118.8,87.6 123.5,87.1 128.2,87.6" fill="none" stroke="#000" stroke-width="2.0" stroke-linejoin="round" stroke-linecap="round"/><polyline points="114.1,110.6 118.8,111.2 123.5,112.4 125.9,112.9" fill="none" stroke="#000" stroke-width="2.0" stroke-linejoin="round" stroke-linecap="round"/><polyline points="128.2,119.4 129.4,125.3 128.8,128.8" fill="none" stroke="#000" stroke-width="2.0" stroke-linejoin="round" stroke-linecap="round"/><polyline points="157.6,126.5 156.5,131.0" fill="none" stroke="#000" stroke-width="2.0" stroke-linejoin="round" stroke-linecap="round"/><polyline points="182.5,106.5 181.1,110.2 180.2,113.7 179.7,117.6 178.2,122.5 179.2,123.0 181.6,124.5 183.1,128.4 183.6,132.4 186.1,135.3 189.5,135.3 192.4,136.3 195.4,137.3 197.9,140.2 200.3,140.7 203.3,141.2 207.2,140.7 208.5,142.5 207.5,147.3 206.9,151.2 208.2,157.8 207.5,161.7 208.9,164.3" fill="none" stroke="#000" stroke-width="2.0" stroke-linejoin="round" stroke-linecap="round"/><polyline points="208.9,164.3 209.5,167.0 212.1,172.2 215.4,174.2 219.3,174.8 223.3,172.9 227.2,169.6 229.2,165.7 227.2,163.0 225.9,157.8 223.9,154.5 222.6,153.2 225.2,153.9 228.5,155.8 232.5,155.8 236.4,153.2 240.3,151.2 243.0,149.9 244.9,148.0" fill="none" stroke="#000" stroke-width="2.0" stroke-linejoin="round" stroke-linecap="round"/><polyline points="241.5,126.5 245.6,130.2 244.3,134.2 241.6,138.1 241.0,143.4 242.3,146.6 244.9,148.0" fill="none" stroke="#000" stroke-width="2.0" stroke-linejoin="round" stroke-linecap="round"/><polyline points="244.9,148.0 246.9,149.9 248.2,155.2 248.2,160.4 249.5,167.0 251.5,170.2 254.8,170.9 258.7,169.6 260.8,166.7 263.4,164.0" fill="none" stroke="#000" stroke-width="2.0" stroke-linejoin="round" stroke-linecap="round"/><polyline points="262.1,141.8 259.4,145.2 259.4,148.5 258.1,151.9 259.4,155.9 262.1,160.0 263.4,164.0" fill="none" stroke="#000" stroke-width="2.0" stroke-linejoin="round" stroke-linecap="round"/><polyline points="263.4,164.0 267.5,165.3 271.5,165.3 275.5,166.0 278.2,165.3 282.3,165.3 286.3,162.6 290.3,160.0 293.0,157.3" fill="none" stroke="#000" stroke-width="2.0" stroke-linejoin="round" stroke-linecap="round"/><polyline points="276.9,144.5 274.9,149.2 275.5,153.2 277.6,155.9 276.2,160.0 278.2,164.7" fill="none" stroke="#000" stroke-width="2.0" stroke-linejoin="round" stroke-linecap="round"/><polyline points="208.9,164.3 206.2,167.0 201.0,167.0 196.4,169.6 197.0,172.2 199.7,173.5 200.3,174.8 195.7,175.5 195.1,180.1 195.7,185.3 197.0,190.6 196.6,193.4 194.5,197.5 193.2,202.2 195.9,206.2" fill="none" stroke="#000" stroke-width="2.0" stroke-linejoin="round" stroke-linecap="round"/><polyline points="150.2,171.3 153.2,173.4 157.3,176.4 160.3,177.4 163.3,176.9 165.3,178.4 168.3,180.0" fill="none" stroke="#000" stroke-width="2.0" stroke-linejoin="round" stroke-linecap="round"/><polyline points="168.3,180.0 170.3,181.6 173.0,184.0 177.1,186.7 179.7,192.1 183.8,193.4 187.8,192.8 193.2,193.4 196.6,193.4" fill="none" stroke="#000" stroke-width="2.0" stroke-linejoin="round" stroke-linecap="round"/><polyline points="168.3,180.0 168.4,183.4 167.6,188.1 165.0,192.8 160.9,196.1 156.9,197.5 152.9,201.5 150.2,208.2 148.8,210.9 146.1,208.2 142.8,203.5" fill="none" stroke="#000" stroke-width="2.0" stroke-linejoin="round" stroke-linecap="round"/><polyline points="195.9,206.2 191.8,205.5 187.8,206.2 183.8,208.2 180.4,210.9 179.1,216.3 177.7,220.3 175.7,224.4 176.4,229.7 178.4,235.1 181.1,239.2 183.8,241.2 187.8,241.2 191.8,239.2 192.5,243.2 193.2,247.2 198.0,248.3" fill="none" stroke="#000" stroke-width="2.0" stroke-linejoin="round" stroke-linecap="round"/><polyline points="198.0,248.3 201.3,247.2 205.3,244.5 210.0,241.8 212.5,240.7 219.2,239.4 219.9,244.7 219.2,250.1 223.2,254.2 228.6,256.8 234.6,260.0 241.3,262.7 244.7,265.4 244.7,272.1 246.0,278.8 250.7,280.2 255.4,280.8 256.1,285.5 258.8,288.2 260.1,293.6 258.8,299.0 257.4,303.0" fill="none" stroke="#000" stroke-width="2.0" stroke-linejoin="round" stroke-linecap="round"/><polyline points="198.0,248.3 199.5,252.0 201.1,255.0 201.8,260.4 200.4,265.8 199.1,272.5 200.4,277.9 201.8,280.5 201.1,283.9 198.4,285.9 197.7,288.0" fill="none" stroke="#000" stroke-width="2.0" stroke-linejoin="round" stroke-linecap="round"/><polyline points="197.7,288.0 195.7,292.0 194.0,294.0" fill="none" stroke="#000" stroke-width="2.0" stroke-linejoin="round" stroke-linecap="round"/><polyline points="197.7,288.0 199.7,291.3 201.8,296.7 203.1,302.1 203.1,307.4 205.1,312.8 207.1,318.9 209.2,320.9" fill="none" stroke="#000" stroke-width="2.0" stroke-linejoin="round" stroke-linecap="round"/><polyline points="209.2,320.9 211.7,316.5 215.8,313.8 222.5,315.8 223.8,318.5 225.2,315.1 231.9,315.1 233.9,315.1" fill="none" stroke="#000" stroke-width="2.0" stroke-linejoin="round" stroke-linecap="round"/><polyline points="233.9,315.1 235.3,309.7 235.9,304.4 238.6,300.3 245.3,299.0 250.7,299.0 254.7,300.3 257.4,303.0" fill="none" stroke="#000" stroke-width="2.0" stroke-linejoin="round" stroke-linecap="round"/><polyline points="257.4,303.0 258.1,309.7 258.1,316.5 264.2,317.1 268.2,317.8 270.2,321.8 271.7,324.0 274.4,326.7 276.4,328.1 277.1,333.4 276.4,336.1 278.4,338.8" fill="none" stroke="#000" stroke-width="2.0" stroke-linejoin="round" stroke-linecap="round"/><polyline points="233.9,315.1 235.4,320.0 239.4,324.0 244.8,328.1 251.5,332.1 256.9,336.1 258.2,340.2 256.2,344.2 254.2,347.6 259.6,348.2 265.0,348.2 270.3,346.9 274.4,344.2 277.1,341.5 278.4,338.8" fill="none" stroke="#000" stroke-width="2.0" stroke-linejoin="round" stroke-linecap="round"/><polyline points="278.4,338.8 276.0,343.0 274.4,348.2 269.0,353.6 265.0,359.0 264.6,360.0 260.6,365.9" fill="none" stroke="#000" stroke-width="2.0" stroke-linejoin="round" stroke-linecap="round"/><polyline points="260.6,365.9 258.2,367.9 257.2,374.7 256.2,381.6 255.2,387.5 254.7,391.5" fill="none" stroke="#000" stroke-width="2.0" stroke-linejoin="round" stroke-linecap="round"/><polyline points="260.6,365.9 263.6,366.4 267.5,369.8 269.5,370.8 275.4,373.8 280.3,377.7 281.8,381.6 281.8,384.6" fill="none" stroke="#000" stroke-width="2.0" stroke-linejoin="round" stroke-linecap="round"/><polyline points="209.2,320.9 209.8,323.6 206.5,327.6 205.3,331.0 203.3,335.4 204.0,340.8 202.0,347.5 198.6,354.2 196.6,362.3 194.6,370.3 193.2,374.4 195.3,379.7 196.6,386.5 195.9,393.2 193.2,398.6 191.2,404.0 190.4,411.7 191.1,418.4 188.4,422.5 187.1,429.2 186.4,438.6 186.4,445.3 187.7,452.1 188.4,454.7 187.1,458.8 186.4,464.2 185.7,469.5 183.0,474.9 180.3,480.3 177.6,485.0 176.0,492.0" fill="none" stroke="#000" stroke-width="2.0" stroke-linejoin="round" stroke-linecap="round"/><polygon points="177.0,494.0 183.4,493.5 183.6,497.6 178.0,497.8" fill="#64dc00"/></g><rect x="188.5" y="57" width="263" height="17" fill="#fff"/></g>
<text transform="translate(224.6 68.9) scale(0.890 1.0)" x="0" y="0" font-family="'Liberation Sans', Arial, sans-serif" font-size="12.0" textLength="34.9" lengthAdjust="spacing" fill="#000" stroke="#000" stroke-width="0.12">NOAA</text>
<text transform="translate(262.8 68.9) scale(1.102 1.0)" x="0" y="0" font-family="'Liberation Sans', Arial, sans-serif" font-size="12.0" textLength="46.3" lengthAdjust="spacing" fill="#000" stroke="#000" stroke-width="0.12">Physical</text>
<text transform="translate(321.0 68.9) scale(1.094 1.0)" x="0" y="0" font-family="'Liberation Sans', Arial, sans-serif" font-size="12.0" textLength="50.3" lengthAdjust="spacing" fill="#000" stroke="#000" stroke-width="0.12">Sciences</text>
<text transform="translate(382.5 68.9) scale(1.109 1.0)" x="0" y="0" font-family="'Liberation Sans', Arial, sans-serif" font-size="12.0" textLength="59.4" lengthAdjust="spacing" fill="#000" stroke="#000" stroke-width="0.12">Laboratory</text>
<rect x="41.6" y="56.0" width="411.4" height="494.0" fill="none" stroke="#000" stroke-width="1.8"/>
<line x1="37.1" y1="56.00" x2="41.6" y2="56.00" stroke="#000" stroke-width="1.6"/>
<text x="34.5" y="60.60" font-family="'Liberation Sans', Arial, sans-serif" font-size="13" text-anchor="end" fill="#000" stroke="#000" stroke-width="0.25" transform="translate(34.5 0) scale(0.88 1) translate(-34.5 0)">20N</text>
<line x1="37.1" y1="117.75" x2="41.6" y2="117.75" stroke="#000" stroke-width="1.6"/>
<text x="34.5" y="122.35" font-family="'Liberation Sans', Arial, sans-serif" font-size="13" text-anchor="end" fill="#000" stroke="#000" stroke-width="0.25" transform="translate(34.5 0) scale(0.88 1) translate(-34.5 0)">10N</text>
<line x1="37.1" y1="179.50" x2="41.6" y2="179.50" stroke="#000" stroke-width="1.6"/>
<text x="34.5" y="184.10" font-family="'Liberation Sans', Arial, sans-serif" font-size="13" text-anchor="end" fill="#000" stroke="#000" stroke-width="0.25" transform="translate(34.5 0) scale(0.88 1) translate(-34.5 0)">EQ</text>
<line x1="37.1" y1="241.25" x2="41.6" y2="241.25" stroke="#000" stroke-width="1.6"/>
<text x="34.5" y="245.85" font-family="'Liberation Sans', Arial, sans-serif" font-size="13" text-anchor="end" fill="#000" stroke="#000" stroke-width="0.25" transform="translate(34.5 0) scale(0.88 1) translate(-34.5 0)">10S</text>
<line x1="37.1" y1="303.00" x2="41.6" y2="303.00" stroke="#000" stroke-width="1.6"/>
<text x="34.5" y="307.60" font-family="'Liberation Sans', Arial, sans-serif" font-size="13" text-anchor="end" fill="#000" stroke="#000" stroke-width="0.25" transform="translate(34.5 0) scale(0.88 1) translate(-34.5 0)">20S</text>
<line x1="37.1" y1="364.75" x2="41.6" y2="364.75" stroke="#000" stroke-width="1.6"/>
<text x="34.5" y="369.35" font-family="'Liberation Sans', Arial, sans-serif" font-size="13" text-anchor="end" fill="#000" stroke="#000" stroke-width="0.25" transform="translate(34.5 0) scale(0.88 1) translate(-34.5 0)">30S</text>
<line x1="37.1" y1="426.50" x2="41.6" y2="426.50" stroke="#000" stroke-width="1.6"/>
<text x="34.5" y="431.10" font-family="'Liberation Sans', Arial, sans-serif" font-size="13" text-anchor="end" fill="#000" stroke="#000" stroke-width="0.25" transform="translate(34.5 0) scale(0.88 1) translate(-34.5 0)">40S</text>
<line x1="37.1" y1="488.25" x2="41.6" y2="488.25" stroke="#000" stroke-width="1.6"/>
<text x="34.5" y="492.85" font-family="'Liberation Sans', Arial, sans-serif" font-size="13" text-anchor="end" fill="#000" stroke="#000" stroke-width="0.25" transform="translate(34.5 0) scale(0.88 1) translate(-34.5 0)">50S</text>
<line x1="37.1" y1="550.00" x2="41.6" y2="550.00" stroke="#000" stroke-width="1.6"/>
<text x="34.5" y="554.60" font-family="'Liberation Sans', Arial, sans-serif" font-size="13" text-anchor="end" fill="#000" stroke="#000" stroke-width="0.25" transform="translate(34.5 0) scale(0.88 1) translate(-34.5 0)">60S</text>
<line x1="41.60" y1="550.0" x2="41.60" y2="554.0" stroke="#000" stroke-width="1.6"/>
<text x="41.60" y="566" font-family="'Liberation Sans', Arial, sans-serif" font-size="13" text-anchor="middle" fill="#000" stroke="#000" stroke-width="0.25" transform="translate(41.60 0) scale(0.88 1) translate(-41.60 0)">100W</text>
<line x1="93.03" y1="550.0" x2="93.03" y2="554.0" stroke="#000" stroke-width="1.6"/>
<text x="93.03" y="566" font-family="'Liberation Sans', Arial, sans-serif" font-size="13" text-anchor="middle" fill="#000" stroke="#000" stroke-width="0.25" transform="translate(93.03 0) scale(0.88 1) translate(-93.03 0)">90W</text>
<line x1="144.45" y1="550.0" x2="144.45" y2="554.0" stroke="#000" stroke-width="1.6"/>
<text x="144.45" y="566" font-family="'Liberation Sans', Arial, sans-serif" font-size="13" text-anchor="middle" fill="#000" stroke="#000" stroke-width="0.25" transform="translate(144.45 0) scale(0.88 1) translate(-144.45 0)">80W</text>
<line x1="195.87" y1="550.0" x2="195.87" y2="554.0" stroke="#000" stroke-width="1.6"/>
<text x="195.87" y="566" font-family="'Liberation Sans', Arial, sans-serif" font-size="13" text-anchor="middle" fill="#000" stroke="#000" stroke-width="0.25" transform="translate(195.87 0) scale(0.88 1) translate(-195.87 0)">70W</text>
<line x1="247.30" y1="550.0" x2="247.30" y2="554.0" stroke="#000" stroke-width="1.6"/>
<text x="247.30" y="566" font-family="'Liberation Sans', Arial, sans-serif" font-size="13" text-anchor="middle" fill="#000" stroke="#000" stroke-width="0.25" transform="translate(247.30 0) scale(0.88 1) translate(-247.30 0)">60W</text>
<line x1="298.73" y1="550.0" x2="298.73" y2="554.0" stroke="#000" stroke-width="1.6"/>
<text x="298.73" y="566" font-family="'Liberation Sans', Arial, sans-serif" font-size="13" text-anchor="middle" fill="#000" stroke="#000" stroke-width="0.25" transform="translate(298.73 0) scale(0.88 1) translate(-298.73 0)">50W</text>
<line x1="350.15" y1="550.0" x2="350.15" y2="554.0" stroke="#000" stroke-width="1.6"/>
<text x="350.15" y="566" font-family="'Liberation Sans', Arial, sans-serif" font-size="13" text-anchor="middle" fill="#000" stroke="#000" stroke-width="0.25" transform="translate(350.15 0) scale(0.88 1) translate(-350.15 0)">40W</text>
<line x1="401.57" y1="550.0" x2="401.57" y2="554.0" stroke="#000" stroke-width="1.6"/>
<text x="401.57" y="566" font-family="'Liberation Sans', Arial, sans-serif" font-size="13" text-anchor="middle" fill="#000" stroke="#000" stroke-width="0.25" transform="translate(401.57 0) scale(0.88 1) translate(-401.57 0)">30W</text>
<line x1="453.00" y1="550.0" x2="453.00" y2="554.0" stroke="#000" stroke-width="1.6"/>
<text x="453.00" y="566" font-family="'Liberation Sans', Arial, sans-serif" font-size="13" text-anchor="middle" fill="#000" stroke="#000" stroke-width="0.25" transform="translate(453.00 0) scale(0.88 1) translate(-453.00 0)">20W</text>
<line x1="41.6" y1="179.7" x2="453.0" y2="179.7" stroke="#000" stroke-width="1.7"/>
<text x="77" y="327" font-family="'Liberation Serif', 'Times New Roman', serif" font-weight="bold" font-size="48" fill="#880015">Dry</text>
<text x="352" y="205.6" font-family="'Liberation Serif', 'Times New Roman', serif" font-weight="bold" font-size="48" fill="#880015">Dry</text>
<line x1="155.4" y1="306.4" x2="242.1" y2="243.8" stroke="#880015" stroke-width="2.6"/>
<line x1="156.1" y1="329.8" x2="241.1" y2="353.9" stroke="#880015" stroke-width="2.6"/>
<line x1="320.2" y1="244.4" x2="351.6" y2="205.7" stroke="#880015" stroke-width="2.6"/>
<text x="287.5" y="442.1" font-family="'Liberation Serif', 'Times New Roman', serif" font-weight="bold" font-size="24" fill="#000">CIC CA Fcst</text>
<text x="287.5" y="468.1" font-family="'Liberation Serif', 'Times New Roman', serif" font-weight="bold" font-size="24" fill="#000">JAN/FEB/MAR</text>
<text x="287.5" y="493.2" font-family="'Liberation Serif', 'Times New Roman', serif" font-weight="bold" font-size="24" fill="#000">2026</text>
<text x="287.5" y="519.7" font-family="'Liberation Serif', 'Times New Roman', serif" font-weight="bold" font-size="24" fill="#000">Prec Anom</text>
<text x="287.5" y="544.8" font-family="'Liberation Serif', 'Times New Roman', serif" font-weight="bold" font-size="24" fill="#000">Issued 12/22/25</text>
<polygon points="545.3,76.8 553.25,42.5 561.2,76.8" fill="#5a0064" stroke="#000" stroke-width="2.2" stroke-linejoin="miter"/>
<rect x="545.3" y="76.80" width="15.900000000000091" height="33.85" fill="#910091" stroke="#000" stroke-width="2.2"/>
<rect x="545.3" y="110.65" width="15.900000000000091" height="33.85" fill="#c800c8" stroke="#000" stroke-width="2.2"/>
<rect x="545.3" y="144.50" width="15.900000000000091" height="33.85" fill="#8200dc" stroke="#000" stroke-width="2.2"/>
<rect x="545.3" y="178.35" width="15.900000000000091" height="33.85" fill="#3000d8" stroke="#000" stroke-width="2.2"/>
<rect x="545.3" y="212.20" width="15.900000000000091" height="33.85" fill="#0560c8" stroke="#000" stroke-width="2.2"/>
<rect x="545.3" y="246.05" width="15.900000000000091" height="33.85" fill="#00c8f0" stroke="#000" stroke-width="2.2"/>
<rect x="545.3" y="279.90" width="15.900000000000091" height="33.85" fill="#ffffff" stroke="#000" stroke-width="2.2"/>
<rect x="545.3" y="313.75" width="15.900000000000091" height="33.85" fill="#ffffff" stroke="#000" stroke-width="2.2"/>
<rect x="545.3" y="347.60" width="15.900000000000091" height="33.85" fill="#64dc00" stroke="#000" stroke-width="2.2"/>
<rect x="545.3" y="381.45" width="15.900000000000091" height="33.85" fill="#c8dc00" stroke="#000" stroke-width="2.2"/>
<rect x="545.3" y="415.30" width="15.900000000000091" height="33.85" fill="#ffdc00" stroke="#000" stroke-width="2.2"/>
<rect x="545.3" y="449.15" width="15.900000000000091" height="33.85" fill="#ffdc00" stroke="#000" stroke-width="2.2"/>
<rect x="545.3" y="483.00" width="15.900000000000091" height="33.85" fill="#ffa000" stroke="#000" stroke-width="2.2"/>
<rect x="545.3" y="516.85" width="15.900000000000091" height="33.85" fill="#ff6400" stroke="#000" stroke-width="2.2"/>
<polygon points="545.3,550.70 553.25,585 561.2,550.70" fill="#c80000" stroke="#000" stroke-width="2.2"/>
<text x="565.7" y="82.40" font-family="'Liberation Sans', Arial, sans-serif" font-size="16.2" textLength="23.2" lengthAdjust="spacingAndGlyphs" fill="#000" stroke="#000" stroke-width="0.45">3.5</text>
<text x="565.7" y="150.10" font-family="'Liberation Sans', Arial, sans-serif" font-size="16.2" textLength="23.2" lengthAdjust="spacingAndGlyphs" fill="#000" stroke="#000" stroke-width="0.45">2.5</text>
<text x="565.7" y="217.80" font-family="'Liberation Sans', Arial, sans-serif" font-size="16.2" textLength="23.2" lengthAdjust="spacingAndGlyphs" fill="#000" stroke="#000" stroke-width="0.45">1.5</text>
<text x="565.7" y="285.50" font-family="'Liberation Sans', Arial, sans-serif" font-size="16.2" textLength="23.2" lengthAdjust="spacingAndGlyphs" fill="#000" stroke="#000" stroke-width="0.45">0.5</text>
<text x="565.7" y="353.20" font-family="'Liberation Sans', Arial, sans-serif" font-size="16.2" textLength="35.3" lengthAdjust="spacingAndGlyphs" fill="#000" stroke="#000" stroke-width="0.45">&#8722;0.5</text>
<text x="565.7" y="420.90" font-family="'Liberation Sans', Arial, sans-serif" font-size="16.2" textLength="35.3" lengthAdjust="spacingAndGlyphs" fill="#000" stroke="#000" stroke-width="0.45">&#8722;1.5</text>
<text x="565.7" y="488.60" font-family="'Liberation Sans', Arial, sans-serif" font-size="16.2" textLength="35.3" lengthAdjust="spacingAndGlyphs" fill="#000" stroke="#000" stroke-width="0.45">&#8722;2.5</text>
<text x="565.7" y="556.30" font-family="'Liberation Sans', Arial, sans-serif" font-size="16.2" textLength="35.3" lengthAdjust="spacingAndGlyphs" fill="#000" stroke="#000" stroke-width="0.45">&#8722;3.5</text></svg>
</body></html>
